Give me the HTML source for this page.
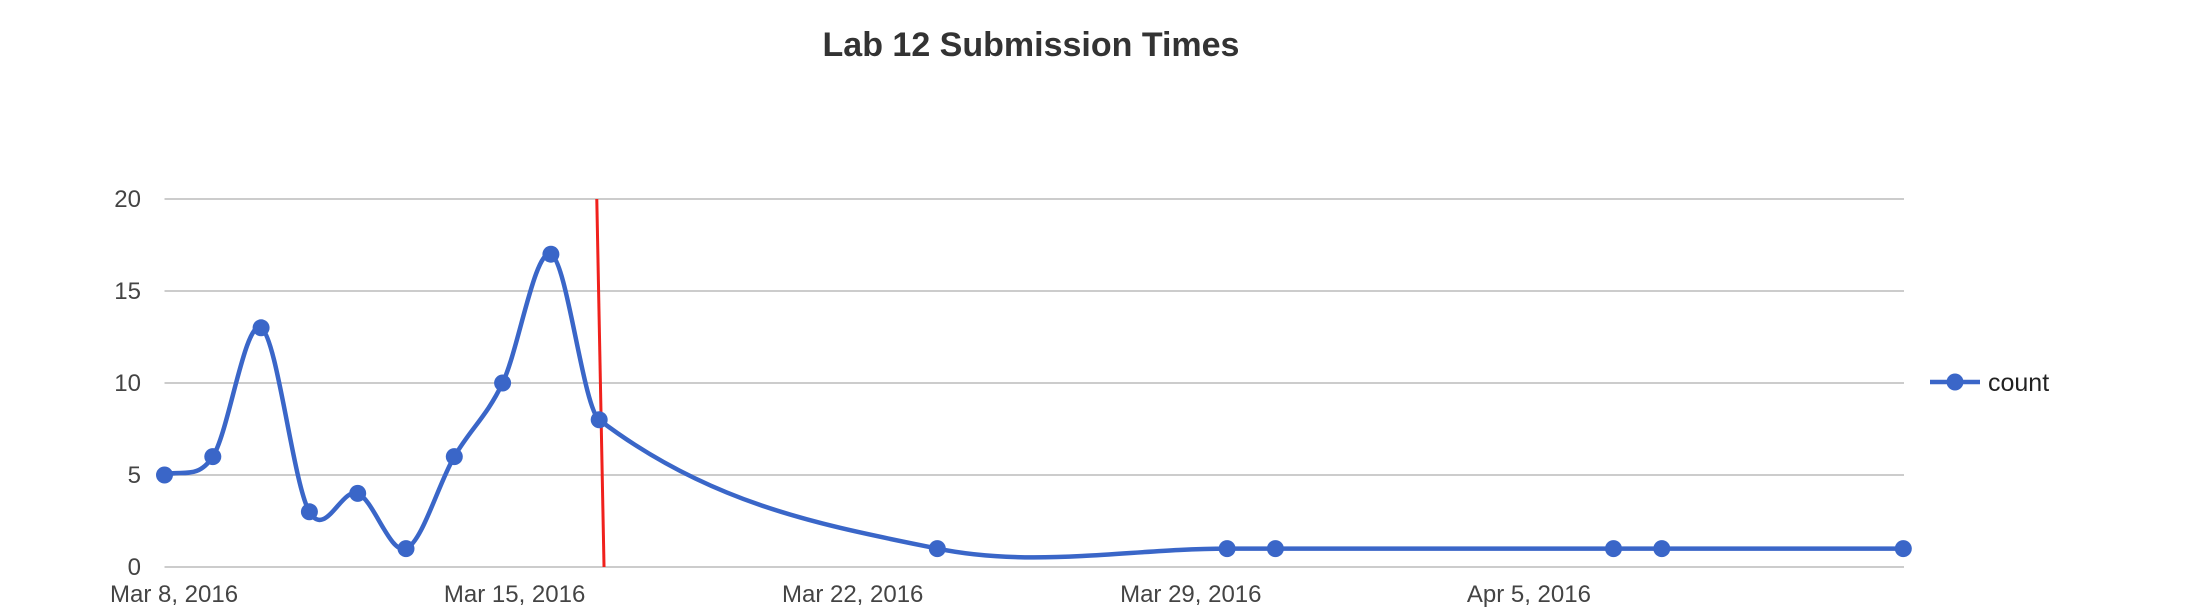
<!DOCTYPE html>
<html><head><meta charset="utf-8"><style>
html,body{margin:0;padding:0;background:#fff;}
svg{display:block;font-family:"Liberation Sans",Arial,sans-serif;}
</style></head><body>
<svg id="chart" width="2186" height="608" viewBox="0 0 2186 608">
<text x="1031" y="56" text-anchor="middle" font-size="34" font-weight="bold" fill="#333">Lab 12 Submission Times</text>
<g id="grid"></g><g id="series"></g>
<g>
<line x1="1930" y1="382" x2="1980" y2="382" stroke="#3a66c8" stroke-width="4.5"/>
<circle cx="1955" cy="382" r="8.5" fill="#3a66c8"/>
<text x="1988" y="391" font-size="25" fill="#222">count</text>
</g>
</svg>
<script>
const days = [0,1,2,3,4,5,6,7,8,9,16,22,23,30,31,36];
const counts = [5,6,13,3,4,1,6,10,17,8,1,1,1,1,1,1];
const yTicks = [0,5,10,15,20];
const xTickDays = [0,7,14,21,28];
const xTickLabels = ["Mar 8, 2016","Mar 15, 2016","Mar 22, 2016","Mar 29, 2016","Apr 5, 2016"];
const deadlineTop = 8.95, deadlineBottom = 9.1;

const L=164.5, PER=48.3, Y0=567, Y20=199;
const xS=d=>L+d*PER;
const yS=v=>Y0-(v/20)*(Y0-Y20);
const NS="http://www.w3.org/2000/svg";
const grid=document.getElementById('grid'), ser=document.getElementById('series');
function mk(tag,attrs,parent){const e=document.createElementNS(NS,tag);for(const k in attrs)e.setAttribute(k,attrs[k]);parent.appendChild(e);return e;}
yTicks.forEach(t=>{
  const g=mk('line',{x1:L,x2:1904,y1:yS(t),y2:yS(t),stroke:'#cccccc','stroke-width':2},grid);
  
  
  const tx=mk('text',{x:141,y:yS(t)+8,'text-anchor':'end','font-size':24,fill:'#444'},grid);
  tx.textContent=t;
  
  
});
xTickDays.forEach((d,i)=>{
  const tx=mk('text',{x:i===0?110:xS(d)+12,y:602,'text-anchor':i===0?'start':'middle','font-size':24,fill:'#444'},grid);
  tx.textContent=xTickLabels[i];
  
  
});
// smooth path: cubic Hermite with slope tangents
const n=days.length;
const m=days.map((d,i)=>{
  const a=Math.max(0,i-1), b=Math.min(n-1,i+1);
  return (counts[b]-counts[a])/(days[b]-days[a]);
});
let dstr='M'+xS(days[0])+','+yS(counts[0]);
for(let i=0;i<n-1;i++){
  const dx=(days[i+1]-days[i])/3;
  const c1x=xS(days[i]+dx), c1y=yS(counts[i]+m[i]*dx);
  const c2x=xS(days[i+1]-dx), c2y=yS(counts[i+1]-m[i+1]*dx);
  dstr+=' C'+c1x+','+c1y+' '+c2x+','+c2y+' '+xS(days[i+1])+','+yS(counts[i+1]);
}
const path=mk('path',{d:dstr,fill:'none',stroke:'#3a66c8','stroke-width':4.5},ser);


const red=mk('line',{x1:xS(deadlineTop),y1:yS(20),x2:xS(deadlineBottom),y2:yS(0),stroke:'#f0211c','stroke-width':3},ser);


days.forEach((d,i)=>{
  const c=mk('circle',{cx:xS(d),cy:yS(counts[i]),r:8.5,fill:'#3a66c8'},ser);
  
  
});
</script>
</body></html>
